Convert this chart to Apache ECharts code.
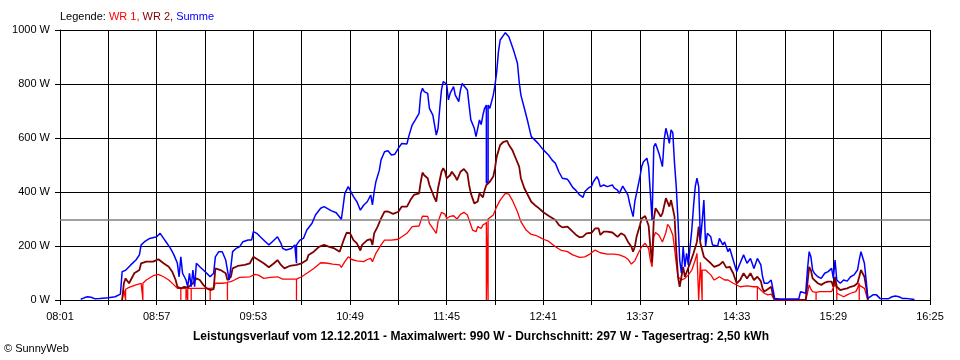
<!DOCTYPE html>
<html><head><meta charset="utf-8">
<script src="https://cdn.jsdelivr.net/npm/echarts@6/dist/echarts.min.js"></script>
<style>html,body{margin:0;padding:0;background:#fff}#c{width:960px;height:360px}</style>
</head><body><div id="c"></div>
<script>
// ---- data ----
const startClock = "08:01";
const endClock = "16:25";
const avgWatts = 297;

const sumTimes = ["08:13","08:15","08:17","08:19","08:21","08:24","08:29","08:33","08:36","08:37","08:39","08:42","08:45","08:47","08:48","08:50","08:53","08:57","08:59","09:01","09:03","09:05","09:07","09:09","09:10","09:11","09:12","09:14","09:15","09:16","09:17","09:18","09:19","09:20","09:22","09:24","09:26","09:28","09:30","09:31","09:33","09:35","09:37","09:38","09:39","09:40","09:41","09:43","09:45","09:47","09:50","09:52","09:53","09:55","09:57","10:00","10:02","10:04","10:07","10:09","10:10","10:12","10:15","10:17","10:18","10:18","10:18","10:20","10:22","10:24","10:27","10:29","10:32","10:34","10:38","10:41","10:44","10:45","10:46","10:48","10:49","10:51","10:53","10:55","10:57","10:59","11:01","11:02","11:03","11:04","11:06","11:07","11:09","11:11","11:13","11:15","11:17","11:19","11:22","11:23","11:25","11:27","11:28","11:29","11:30","11:31","11:32","11:34","11:35","11:37","11:38","11:39","11:40","11:41","11:42","11:43","11:44","11:45","11:46","11:47","11:48","11:49","11:50","11:51","11:52","11:53","11:54","11:55","11:57","11:58","11:59","12:01","12:02","12:03","12:04","12:05","12:06","12:07","12:08","12:08","12:09","12:09","12:10","12:12","12:13","12:14","12:15","12:16","12:18","12:19","12:21","12:22","12:24","12:26","12:27","12:28","12:30","12:32","12:34","12:36","12:38","12:41","12:42","12:44","12:46","12:48","12:50","12:52","12:55","12:56","12:58","13:00","13:02","13:04","13:05","13:07","13:09","13:10","13:12","13:13","13:14","13:16","13:18","13:21","13:22","13:24","13:25","13:27","13:28","13:30","13:31","13:33","13:34","13:35","13:37","13:38","13:39","13:41","13:42","13:43","13:44","13:45","13:46","13:48","13:49","13:50","13:51","13:52","13:53","13:54","13:55","13:56","13:57","13:58","13:59","14:00","14:01","14:02","14:03","14:04","14:05","14:06","14:07","14:08","14:09","14:10","14:11","14:12","14:13","14:14","14:15","14:16","14:18","14:19","14:20","14:22","14:23","14:25","14:26","14:28","14:29","14:31","14:33","14:35","14:37","14:39","14:41","14:43","14:45","14:47","14:48","14:49","14:51","14:53","14:54","14:55","14:58","15:09","15:10","15:13","15:14","15:15","15:16","15:17","15:18","15:20","15:22","15:24","15:26","15:28","15:29","15:30","15:31","15:33","15:35","15:37","15:39","15:41","15:43","15:44","15:45","15:47","15:48","15:49","15:50","15:52","15:54","15:56","16:01","16:03","16:05","16:07","16:09","16:11","16:15","16:16"];
const sumWatts = [3,8,12,10,5,6,8,12,22,105,110,130,148,167,204,216,228,234,247,228,210,191,167,136,86,160,99,74,49,99,49,111,49,136,123,111,99,86,99,160,179,179,148,111,74,123,179,191,197,216,222,222,253,247,234,216,204,216,234,210,191,185,191,204,204,136,204,222,228,259,284,315,340,346,331,323,299,346,395,420,415,383,364,333,352,364,389,352,401,438,481,519,549,553,537,540,562,580,578,605,648,669,667,691,765,784,772,765,710,685,648,611,636,710,778,809,815,800,741,765,768,790,759,747,735,778,802,802,778,722,667,636,605,636,667,650,685,710,722,432,440,722,710,759,796,846,920,963,981,990,975,957,920,877,809,759,710,660,605,593,580,556,556,537,519,506,475,451,447,438,417,405,389,380,401,414,422,438,457,445,420,426,420,426,415,407,395,422,415,389,358,309,364,370,457,494,512,525,494,395,296,568,580,543,550,494,593,636,611,580,630,620,506,420,296,148,99,197,123,173,130,197,259,346,420,451,420,222,290,370,200,247,234,204,204,200,228,204,215,179,191,148,105,136,167,136,154,117,154,130,86,62,62,74,40,6,4,4,31,25,111,179,160,111,99,86,80,99,105,117,80,148,74,62,74,70,86,93,111,148,179,136,74,6,3,19,19,6,5,12,15,12,6,6,3,2];

const wr2Times = ["08:37","08:38","08:39","08:41","08:43","08:44","08:47","08:48","08:51","08:55","08:58","09:01","09:04","09:06","09:08","09:09","09:11","09:13","09:15","09:18","09:20","09:22","09:24","09:26","09:28","09:30","09:31","09:34","09:37","09:38","09:40","09:41","09:44","09:48","09:51","09:53","09:56","09:59","10:02","10:05","10:07","10:09","10:11","10:14","10:18","10:21","10:24","10:25","10:28","10:31","10:34","10:37","10:40","10:43","10:44","10:45","10:47","10:49","10:51","10:53","10:55","10:56","10:59","11:01","11:02","11:03","11:05","11:07","11:09","11:11","11:14","11:17","11:19","11:22","11:24","11:26","11:29","11:30","11:31","11:32","11:34","11:35","11:36","11:38","11:39","11:40","11:42","11:43","11:44","11:45","11:47","11:48","11:50","11:51","11:53","11:55","11:57","11:58","11:59","12:01","12:03","12:04","12:06","12:07","12:08","12:10","12:12","12:13","12:14","12:16","12:18","12:20","12:21","12:23","12:25","12:27","12:28","12:30","12:32","12:34","12:36","12:38","12:39","12:41","12:44","12:45","12:48","12:50","12:52","12:55","12:56","12:58","13:00","13:02","13:04","13:06","13:09","13:11","13:13","13:14","13:16","13:18","13:21","13:22","13:24","13:26","13:28","13:30","13:32","13:33","13:34","13:35","13:37","13:38","13:40","13:41","13:42","13:43","13:44","13:45","13:46","13:48","13:49","13:50","13:52","13:53","13:54","13:55","13:57","13:58","13:59","14:00","14:01","14:02","14:03","14:04","14:06","14:08","14:10","14:11","14:12","14:14","14:16","14:18","14:20","14:21","14:23","14:25","14:27","14:29","14:31","14:33","14:35","14:37","14:39","14:41","14:43","14:45","14:47","14:48","14:49","14:51","14:53","14:54","14:55","15:13","15:14","15:15","15:16","15:17","15:18","15:20","15:22","15:24","15:26","15:28","15:29","15:30","15:31","15:33","15:35","15:37","15:39","15:41","15:43","15:44","15:45","15:47","15:48","15:49"];
const wr2Watts = [0,62,80,62,86,99,111,136,142,142,151,136,123,105,74,49,43,49,46,62,80,74,56,43,37,40,117,111,99,74,86,117,126,130,136,160,148,136,121,136,148,130,117,126,130,136,148,167,179,197,204,197,191,179,173,216,249,248,222,210,183,204,222,225,204,247,272,302,327,328,319,327,346,346,370,389,395,438,472,462,451,426,420,377,364,414,475,488,478,451,462,475,457,444,475,485,469,426,395,358,365,395,380,407,426,438,457,488,531,574,586,589,575,556,525,494,451,414,389,364,352,342,340,325,312,309,296,278,269,272,265,253,241,232,235,247,249,265,265,241,253,253,250,247,234,247,240,216,197,179,197,234,278,302,311,310,275,197,140,300,340,320,309,321,377,377,346,370,309,185,86,49,86,123,86,86,136,173,216,272,210,160,148,136,123,123,130,142,120,123,99,62,74,99,80,99,74,86,70,43,31,40,49,19,0,0,62,123,110,80,74,62,56,64,68,68,49,86,49,37,40,43,49,52,62,86,111,86,49,0];

const wr1Times = ["08:37","08:38","08:39","08:39","08:39","08:41","08:45","08:48","08:49","08:49","08:49","08:51","08:55","08:58","08:59","09:01","09:04","09:07","09:09","09:11","09:11","09:11","09:14","09:14","09:14","09:15","09:15","09:15","09:17","09:17","09:17","09:22","09:28","09:28","09:28","09:30","09:31","09:35","09:38","09:38","09:38","09:40","09:42","09:45","09:51","09:54","09:56","09:59","10:03","10:07","10:10","10:14","10:18","10:18","10:18","10:21","10:24","10:28","10:32","10:35","10:39","10:43","10:44","10:46","10:48","10:50","10:53","10:57","10:59","11:01","11:02","11:04","11:07","11:09","11:13","11:17","11:19","11:22","11:25","11:29","11:31","11:32","11:34","11:35","11:37","11:39","11:40","11:42","11:44","11:45","11:47","11:49","11:51","11:53","11:55","11:57","11:59","12:00","12:02","12:03","12:05","12:06","12:08","12:08","12:08","12:09","12:09","12:09","12:10","12:12","12:14","12:16","12:19","12:21","12:23","12:26","12:28","12:31","12:34","12:37","12:39","12:41","12:44","12:45","12:48","12:51","12:55","12:58","13:02","13:05","13:08","13:11","13:14","13:18","13:22","13:25","13:28","13:30","13:32","13:34","13:36","13:38","13:40","13:41","13:42","13:43","13:44","13:45","13:46","13:48","13:50","13:52","13:53","13:54","13:55","13:56","13:57","13:58","13:59","14:01","14:03","14:05","14:07","14:09","14:10","14:11","14:12","14:12","14:13","14:13","14:15","14:18","14:20","14:21","14:23","14:26","14:28","14:31","14:35","14:39","14:43","14:45","14:45","14:45","14:47","14:49","14:51","14:53","14:54","14:55","15:13","15:14","15:15","15:16","15:17","15:19","15:19","15:19","15:21","15:25","15:28","15:30","15:31","15:31","15:31","15:32","15:35","15:37","15:39","15:42","15:43","15:44","15:44","15:44","15:45","15:47","15:49"];
const wr1Watts = [0,37,40,0,40,47,56,62,62,0,62,74,90,95,96,86,74,56,43,43,0,43,43,0,43,43,0,43,43,0,43,43,43,0,43,45,62,62,64,0,66,68,74,84,86,95,92,80,84,86,77,77,77,0,77,86,99,117,138,137,133,130,121,142,160,150,145,142,150,154,142,173,204,222,222,225,234,247,272,274,311,315,310,284,265,247,290,325,318,302,310,312,300,317,325,315,278,259,253,272,265,278,285,0,290,290,0,300,300,315,346,370,395,392,370,327,290,259,243,238,232,225,218,216,197,185,179,167,158,160,170,185,175,170,170,167,160,151,133,145,173,197,210,212,190,148,123,234,250,240,215,250,280,272,265,241,191,136,86,74,80,93,111,148,173,0,0,140,0,111,111,93,74,74,86,74,74,62,49,52,49,49,0,49,37,25,19,22,10,0,0,25,56,40,31,28,0,28,31,31,31,62,40,0,25,25,12,19,25,31,43,62,0,55,55,43,0];

// ---- helpers ----
function toMin(s){ const p = s.split(':').map(Number); return p[0]*60 + p[1]; }
const t0 = toMin(startClock);
const tEnd = toMin(endClock) - t0;
function pairs(times, vals){ return times.map((t,i) => [toMin(t) - t0, vals[i]]); }
function clock(v){ const m = t0 + v; return String(Math.floor(m/60)).padStart(2,'0') + ':' + String(m % 60).padStart(2,'0'); }

const FONT = "'Liberation Sans', Arial, sans-serif";
const chart = echarts.init(document.getElementById('c'), null, {renderer:'canvas'});
chart.setOption({
  animation: false,
  backgroundColor: '#ffffff',
  grid: { left: 60, right: 30, top: 30, bottom: 60, containLabel: false },
  xAxis: {
    type: 'value', min: 0, max: tEnd, interval: 28,
    axisLine: { show: true, onZero: false, lineStyle: { color: '#000', width: 1 } },
    axisTick: { show: true, length: 5, lineStyle: { color: '#000' } },
    axisLabel: { color: '#000', fontFamily: FONT, fontSize: 11, margin: 11, showMinLabel: true, showMaxLabel: true,
      formatter: v => (Math.round(v) % 56 === 0 ? clock(Math.round(v)) : '') },
    splitLine: { show: true, lineStyle: { color: '#000', width: 1 } }
  },
  yAxis: {
    type: 'value', min: 0, max: 1000, interval: 200,
    axisLine: { show: true, lineStyle: { color: '#000', width: 1 } },
    axisTick: { show: true, length: 5, lineStyle: { color: '#000' } },
    axisLabel: { color: '#000', fontFamily: FONT, fontSize: 11, margin: 10, formatter: v => v + ' W' },
    splitLine: { show: true, lineStyle: { color: '#000', width: 1 } }
  },
  series: [
    { name: 'WR 1', type: 'line', data: pairs(wr1Times, wr1Watts), showSymbol: false, symbol: 'none',
      lineStyle: { color: '#ff0000', width: 1.3 }, z: 3,
      markLine: { silent: true, symbol: ['none','none'], label: { show: false },
        lineStyle: { color: '#808080', type: 'solid', width: 1.5 }, data: [{ yAxis: avgWatts }] } },
    { name: 'WR 2', type: 'line', data: pairs(wr2Times, wr2Watts), showSymbol: false, symbol: 'none',
      lineStyle: { color: '#800000', width: 1.8 }, z: 4 },
    { name: 'Summe', type: 'line', data: pairs(sumTimes, sumWatts), showSymbol: false, symbol: 'none',
      lineStyle: { color: '#0000ff', width: 1.5 }, z: 5 }
  ],
  graphic: [
    { type: 'text', left: 60, top: 11, style: { text: '{k|Legende: }{a|WR 1, }{b|WR 2, }{c|Summe}',
      font: '11px ' + FONT,
      rich: { k: { fill: '#000', fontSize: 11, fontFamily: FONT }, a: { fill: '#ff0000', fontSize: 11, fontFamily: FONT },
              b: { fill: '#800000', fontSize: 11, fontFamily: FONT }, c: { fill: '#0000ff', fontSize: 11, fontFamily: FONT } } } },
    { type: 'text', x: 481, y: 337, style: { text: 'Leistungsverlauf vom 12.12.2011 - Maximalwert: 990 W - Durchschnitt: 297 W - Tagesertrag: 2,50 kWh',
      fill: '#000', font: 'bold 12px ' + FONT, textAlign: 'center', textVerticalAlign: 'middle' } },
    { type: 'text', x: 4, y: 349, style: { text: '© SunnyWeb', fill: '#000', font: '11px ' + FONT, textVerticalAlign: 'middle' } }
  ]
});
</script>
</body></html>
